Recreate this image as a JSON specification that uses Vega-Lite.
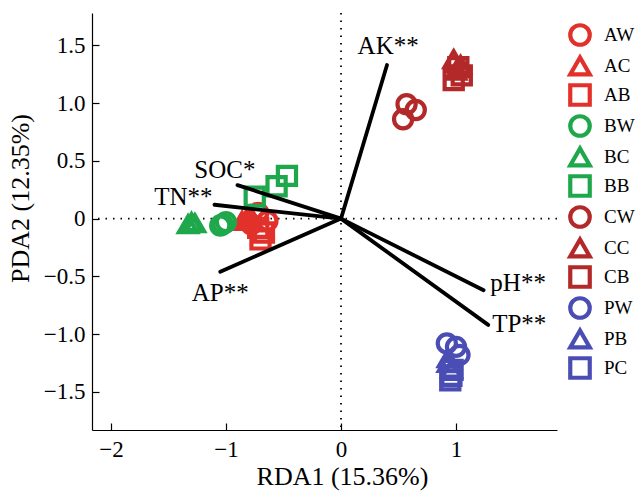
{
  "$schema": "https://vega.github.io/schema/vega-lite/v6.json",
  "autosize": "none",
  "width": 465,
  "height": 417,
  "padding": {"left": 92, "top": 13, "right": 82, "bottom": 63},
  "config": {
    "font": "Liberation Serif",
    "view": {"stroke": null},
    "axis": {"grid": false, "domainColor": "black", "tickColor": "black", "labelColor": "black", "titleColor": "black", "labelFont": "Liberation Serif", "titleFont": "Liberation Serif", "labelFontSize": 23, "titleFontSize": 26, "titleFontWeight": "normal", "domainWidth": 1.2, "tickWidth": 1.2}
  },
  "datasets": {
    "pts": [
      {"group": "AW", "x": -0.72, "y": 0.05}, {"group": "AW", "x": -0.64, "y": -0.02}, {"group": "AW", "x": -0.78, "y": -0.05},
      {"group": "AC", "x": -0.86, "y": -0.02}, {"group": "AC", "x": -0.82, "y": 0.0}, {"group": "AC", "x": -0.79, "y": 0.03},
      {"group": "AB", "x": -0.70, "y": -0.18}, {"group": "AB", "x": -0.72, "y": -0.08}, {"group": "AB", "x": -0.67, "y": -0.12},
      {"group": "BW", "x": -1.03, "y": -0.05}, {"group": "BW", "x": -1.0, "y": -0.03}, {"group": "BW", "x": -1.05, "y": -0.06},
      {"group": "BC", "x": -1.30, "y": -0.03}, {"group": "BC", "x": -1.33, "y": -0.05}, {"group": "BC", "x": -1.27, "y": -0.04},
      {"group": "BB", "x": -0.75, "y": 0.19}, {"group": "BB", "x": -0.56, "y": 0.28}, {"group": "BB", "x": -0.47, "y": 0.37},
      {"group": "CW", "x": 0.57, "y": 0.99}, {"group": "CW", "x": 0.65, "y": 0.94}, {"group": "CW", "x": 0.54, "y": 0.86},
      {"group": "CC", "x": 0.98, "y": 1.38}, {"group": "CC", "x": 1.04, "y": 1.33}, {"group": "CC", "x": 1.0, "y": 1.28},
      {"group": "CB", "x": 0.98, "y": 1.20}, {"group": "CB", "x": 1.05, "y": 1.24}, {"group": "CB", "x": 1.02, "y": 1.31},
      {"group": "PW", "x": 0.92, "y": -1.08}, {"group": "PW", "x": 1.0, "y": -1.11}, {"group": "PW", "x": 1.03, "y": -1.18},
      {"group": "PB", "x": 0.93, "y": -1.25}, {"group": "PB", "x": 0.96, "y": -1.30}, {"group": "PB", "x": 0.93, "y": -1.21},
      {"group": "PC", "x": 0.96, "y": -1.36}, {"group": "PC", "x": 0.95, "y": -1.40}, {"group": "PC", "x": 0.97, "y": -1.31}
    ],
    "vars": [
      {"var": "AK**", "x": 0.40, "y": 1.33, "lx": 0.41, "ly": 1.49},
      {"var": "SOC*", "x": -0.90, "y": 0.29, "lx": -1.01, "ly": 0.42},
      {"var": "TN**", "x": -1.10, "y": 0.12, "lx": -1.37, "ly": 0.19},
      {"var": "AP**", "x": -1.05, "y": -0.46, "lx": -1.05, "ly": -0.64},
      {"var": "pH**", "x": 1.24, "y": -0.62, "lx": 1.54, "ly": -0.56},
      {"var": "TP**", "x": 1.28, "y": -0.92, "lx": 1.55, "ly": -0.91}
    ]
  },
  "layer": [
    {
      "data": {"values": [{"z": 0}]},
      "mark": {"type": "rule", "color": "black", "strokeWidth": 1.8, "strokeDash": [1.5, 6]},
      "encoding": {"x": {"field": "z", "type": "quantitative"}}
    },
    {
      "data": {"values": [{"z": 0}]},
      "mark": {"type": "rule", "color": "black", "strokeWidth": 1.8, "strokeDash": [1.5, 6]},
      "encoding": {"y": {"field": "z", "type": "quantitative"}}
    },
    {
      "data": {"name": "pts"},
      "mark": {"type": "point", "filled": false, "strokeWidth": 4.2, "size": 330, "opacity": 1},
      "encoding": {
        "x": {"field": "x", "type": "quantitative", "scale": {"domain": [-2.165, 1.878], "nice": false, "zero": false},
          "axis": {"title": "RDA1 (15.36%)", "values": [-2, -1, 0, 1], "tickSize": -7, "labelPadding": 15, "labelExpr": "datum.value == 0 ? '0' : format(datum.value, 'd')", "titleX": 250, "titleY": 33, "titleAlign": "center"}},
        "y": {"field": "y", "type": "quantitative", "scale": {"domain": [-1.83, 1.78], "nice": false, "zero": false},
          "axis": {"title": "PDA2 (12.35%)", "values": [-1.5, -1, -0.5, 0, 0.5, 1, 1.5], "tickSize": -7, "labelPadding": 14, "labelExpr": "datum.value == 0 ? '0' : format(datum.value, '.1f')", "titleX": -59, "titleY": 185, "titleAlign": "center", "titleAngle": 270, "titleBaseline": "bottom"}},
        "color": {"field": "group", "type": "nominal",
          "scale": {"domain": ["AW", "AC", "AB", "BW", "BC", "BB", "CW", "CC", "CB", "PW", "PB", "PC"],
            "range": ["#E2312B", "#E2312B", "#E2312B", "#1FA84B", "#1FA84B", "#1FA84B", "#B32828", "#B32828", "#B32828", "#4A4EB4", "#4A4EB4", "#4A4EB4"]},
          "legend": {"title": null, "orient": "none", "legendX": 476, "legendY": 10, "padding": 0, "symbolSize": 380, "symbolStrokeWidth": 4.2, "labelFontSize": 19, "labelFont": "Liberation Serif", "labelColor": "black", "labelOffset": 12, "rowPadding": -7.7}},
        "shape": {"field": "group", "type": "nominal",
          "scale": {"domain": ["AW", "AC", "AB", "BW", "BC", "BB", "CW", "CC", "CB", "PW", "PB", "PC"],
            "range": ["circle", "triangle-up", "square", "circle", "triangle-up", "square", "circle", "triangle-up", "square", "circle", "triangle-up", "square"]}}
      }
    },
    {
      "data": {"name": "vars"},
      "mark": {"type": "rule", "color": "black", "strokeWidth": 3.8, "strokeCap": "round"},
      "encoding": {
        "x": {"field": "x", "type": "quantitative"},
        "y": {"field": "y", "type": "quantitative"},
        "x2": {"datum": 0},
        "y2": {"datum": 0}
      }
    },
    {
      "data": {"name": "vars"},
      "mark": {"type": "text", "fontSize": 25, "font": "Liberation Serif", "color": "black", "align": "center", "baseline": "middle"},
      "encoding": {
        "x": {"field": "lx", "type": "quantitative"},
        "y": {"field": "ly", "type": "quantitative"},
        "text": {"field": "var"}
      }
    }
  ]
}
